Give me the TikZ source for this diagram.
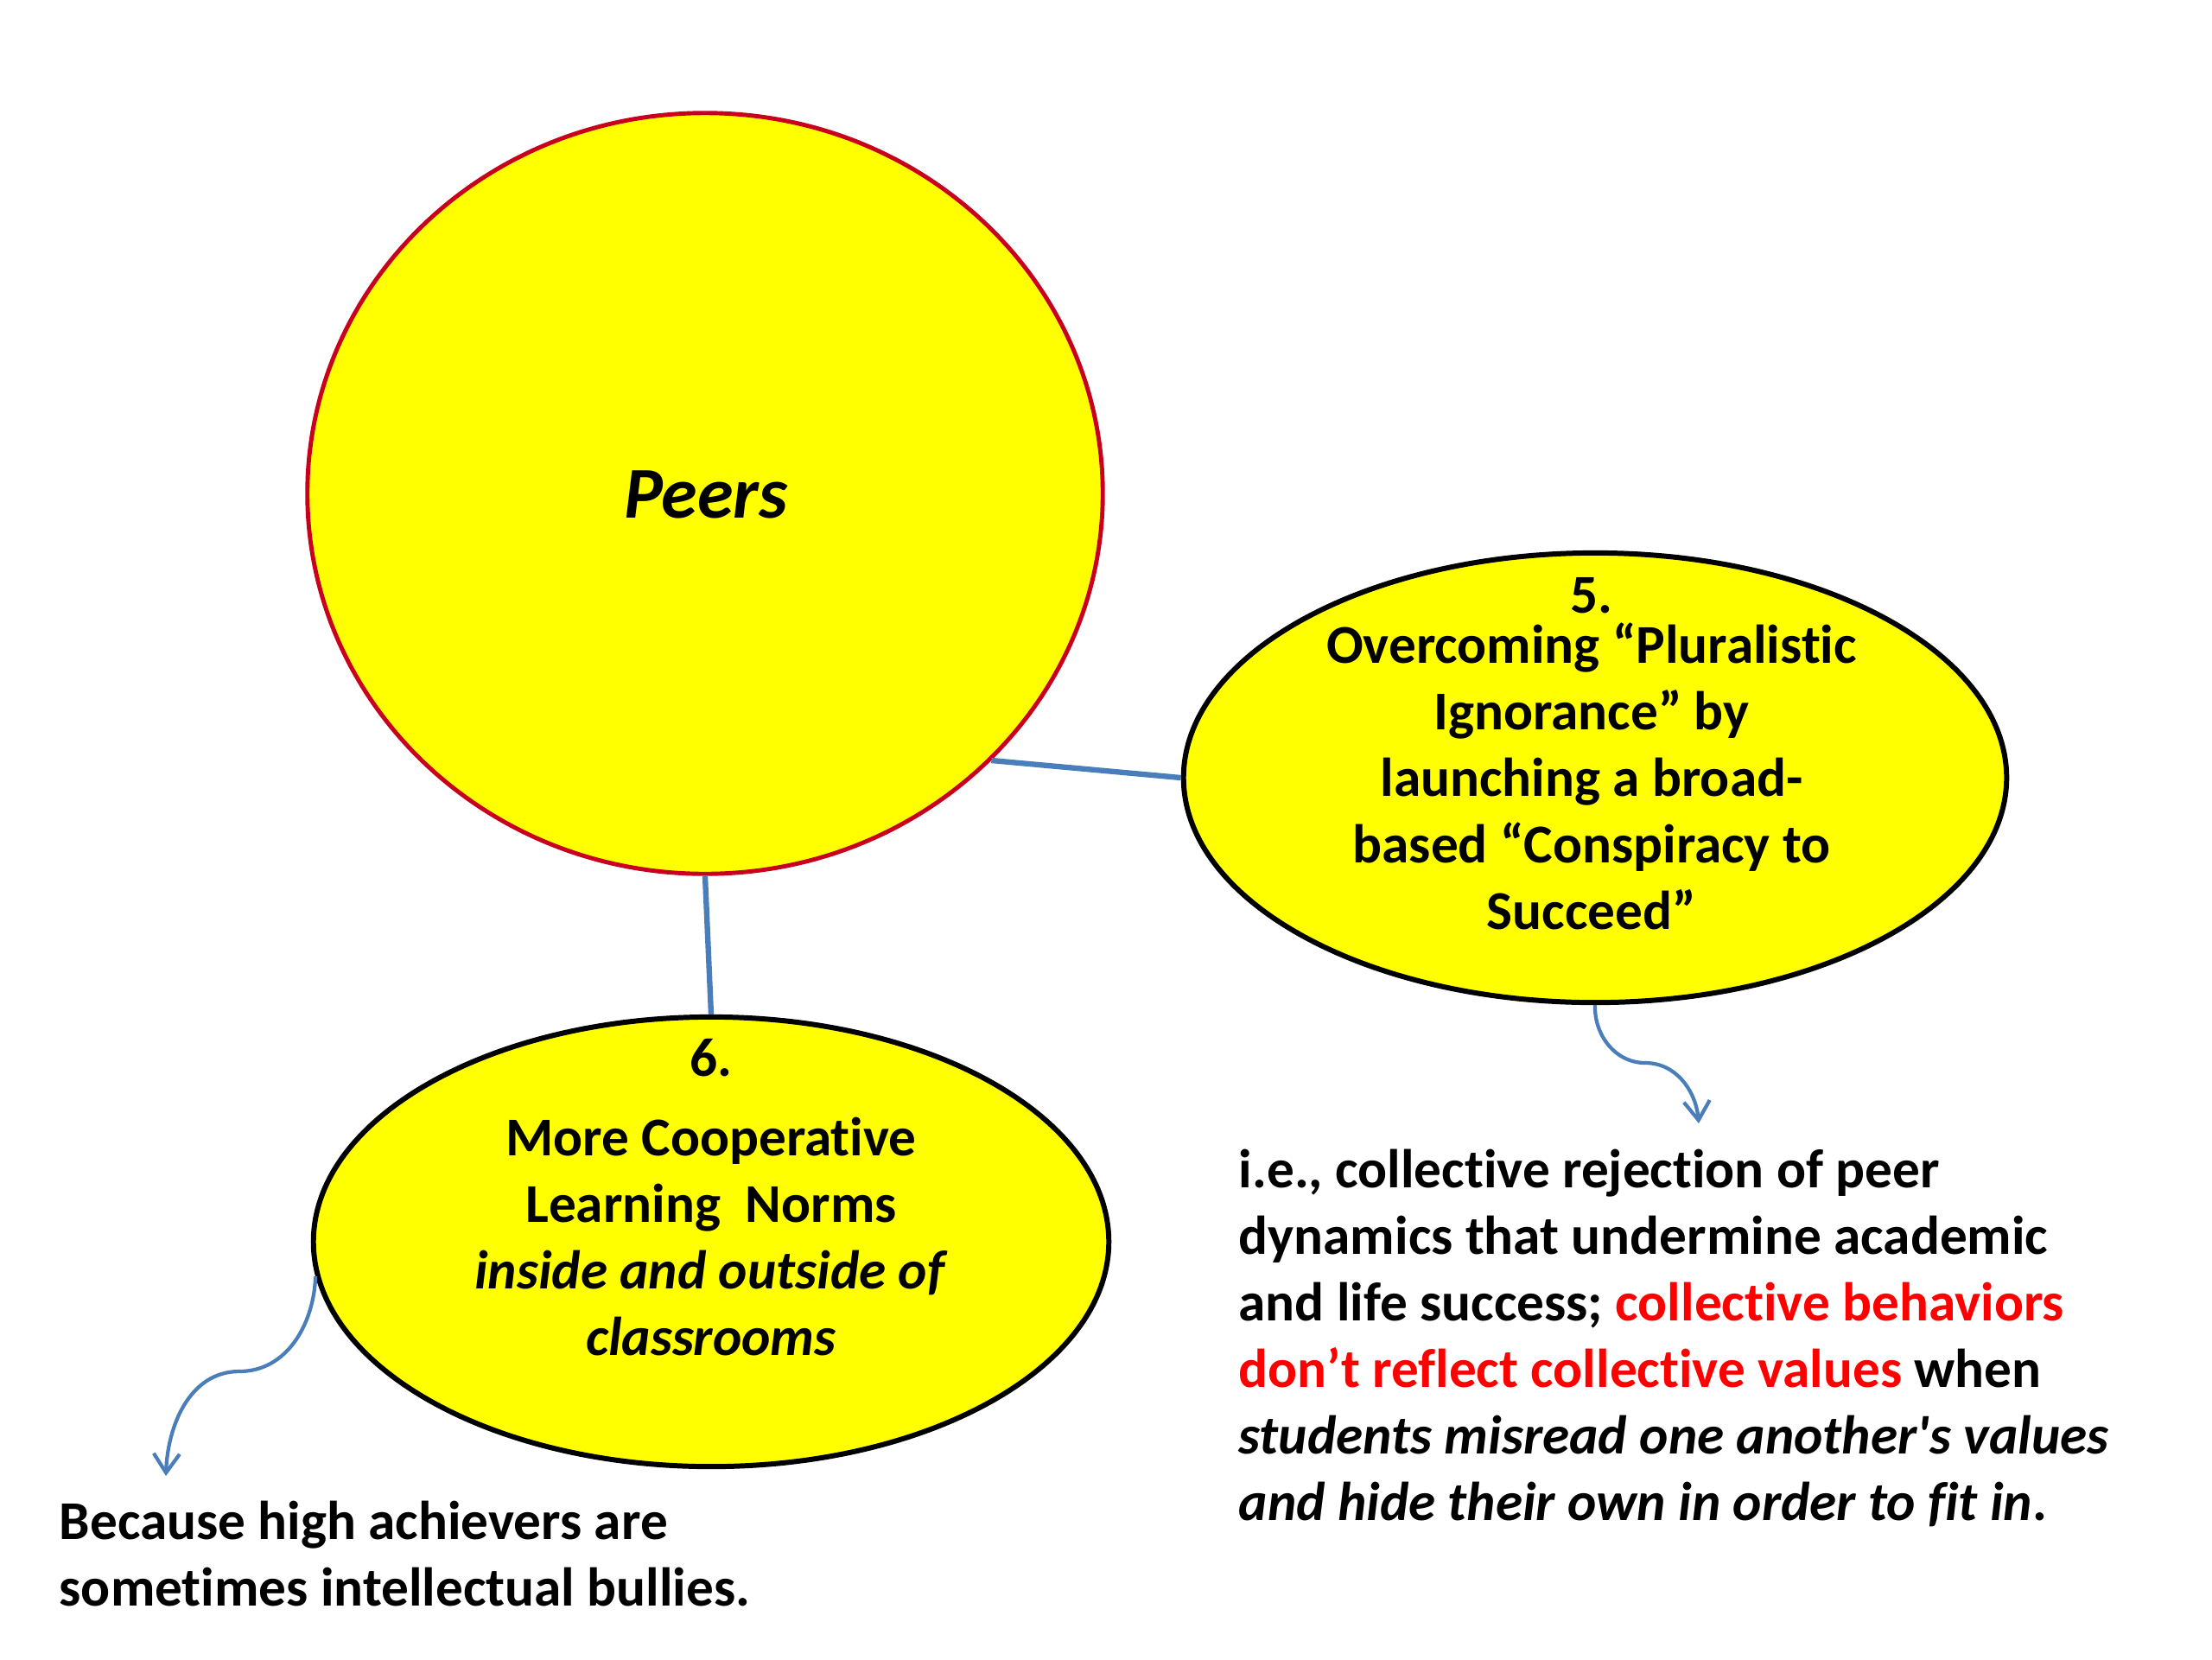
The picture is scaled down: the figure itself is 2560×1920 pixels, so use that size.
\documentclass[tikz,border=0pt]{standalone}
\usepackage{fontspec}
\setmainfont{Carlito}[Ligatures=NoCommon]
\newfontfamily\plaincarlito{Carlito}[Ligatures=NoCommon]
\usetikzlibrary{shapes.geometric,arrows.meta}
\definecolor{ylw}{HTML}{FFFF00}
\definecolor{peerred}{HTML}{C8001E}
\definecolor{conblue}{HTML}{4A7EBB}
\definecolor{txtred}{HTML}{FF0000}
\newcommand{\straightapos}{{\plaincarlito\bfseries\itshape '}}
\tikzset{
  bubble/.style={ellipse, draw=black, fill=ylw, line width=1.7pt, inner sep=0pt},
  peerbubble/.style={ellipse, draw=peerred, fill=ylw, line width=1.4pt, inner sep=0pt},
  conn/.style={draw=conblue, line width=1.8pt},
  curvy/.style={draw=conblue, line width=1.2pt, -{Straight Barb[length=0.22cm,width=0.3cm,line width=1.2pt]}},
  btxt/.style={font=\fontsize{18}{21.9}\selectfont\bfseries, inner sep=0pt},
}
\begin{document}
\begin{tikzpicture}[x=0.01cm,y=-0.01cm]
\useasboundingbox (0,0) rectangle (2560,1920);
\fill[white] (0,0) rectangle (2560,1920);

\node[peerbubble, minimum width=9.2cm, minimum height=8.8cm] (peers) at (816,571) {};
\node[bubble, minimum width=9.52cm, minimum height=5.2cm] (e5) at (1846,900) {};
\node[bubble, minimum width=9.2cm, minimum height=5.2cm] (e6) at (823,1437) {};

\node[font=\fontsize{24}{28}\selectfont\bfseries\itshape, inner sep=0pt] (tpeers) at (817,572) {Peers};

\node[btxt, align=center] (t5) at (1842,872) {5.\\[-0.19cm]Overcoming “Pluralistic\\Ignorance” by\\launching a broad-\\based “Conspiracy to\\Succeed”};

\node[btxt, align=center] (t6) at (823,1386) {6.\\[0.15cm]More Cooperative\\Learning\ \ Norms\\\textit{inside and outside of}\\\textit{classrooms}};

\node[btxt, align=left, anchor=north west] (tright) at (1433,1329) {i.e., collective rejection of peer\\dynamics that undermine academic\\and life success; \textcolor{txtred}{collective behaviors}\\\textcolor{txtred}{don’t reflect collective values} when\\\textit{students misread one another\straightapos s values}\\\textit{and hide their own in order to fit in}.};

\node[btxt, align=left, anchor=north west] (tleft) at (68,1736) {Because high achievers are\\sometimes intellectual bullies.};

\draw[conn] (peers.-43) -- (e5.west);
\draw[conn] (peers.south) -- (e6.north);

\coordinate (m5) at (1904,1230);
\coordinate (tip5) at (1966,1300);
\draw[curvy] (e5.south) to[out=-92,in=180] (m5) to[out=0,in=95] (tip5);

\coordinate (m6) at (277,1587);
\coordinate (tip6) at (192,1708);
\draw[curvy] (e6.185) to[out=-92,in=0] (m6) to[out=180,in=88] (tip6);
\end{tikzpicture}
\end{document}
